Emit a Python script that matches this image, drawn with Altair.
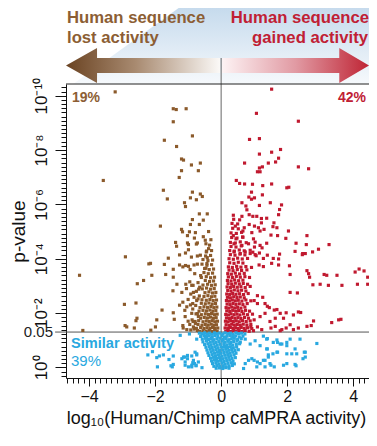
import altair as alt
import pandas as pd

BROWN = "#8B5A2B"
RED = "#C0192F"
BLUE = "#29A8E0"
BROWN_TXT = "#8C5E34"
RED_TXT = "#C02034"

# ---- data: (log10 ratio, -log10 p) ----
lost_pts = [
    (-3.21,10.14),(-1.45,9.52),(-1.36,9.49),(-1.06,9.52),(-1.45,9.04),(-0.87,8.52),(-1.72,8.36),(-1.35,8.13),
    (-1.20,7.67),(-1.14,7.63),(-0.90,7.45),(-0.63,7.52),(-1.20,7.24),(-0.69,7.24),(-1.27,6.99),(-3.57,6.88),
    (-1.75,6.52),(-0.87,6.45),(-0.63,6.38),(-0.57,6.29),(-1.63,6.20),(-0.93,6.24),(-0.75,6.17),(-1.11,6.06),
    (-1.08,5.92),(-0.66,5.65),(-0.42,5.65),(-0.87,5.44),(-0.54,5.42),(-0.93,5.26),(-0.66,5.26),(-1.84,5.20),
    (-1.20,5.08),(-1.17,4.99),(-0.96,4.99),(-0.78,4.96),(-1.02,4.85),(-0.81,4.76),(-0.54,4.81),(-1.38,4.60),
    (-1.02,4.58),(-0.75,4.54),(-1.35,4.46),(-0.99,4.52),(-0.72,4.58),(-0.46,4.55),(-0.38,4.37),(-0.99,4.33),
    (-0.45,4.25),(-2.90,4.07),(-1.60,4.02),(-1.26,4.14),(-1.08,4.21),(-0.90,4.06),(-0.72,4.10),(-0.63,4.13),
    (-0.42,4.04),(-2.19,3.81),(-2.14,3.83),(-1.72,3.79),(-1.45,3.61),(-1.26,3.77),(-1.08,3.75),(-0.94,3.60),
    (-0.82,3.77),(-0.72,3.80),(-0.58,3.80),(-0.43,3.82),(-0.46,3.65),(-4.29,3.39),(-2.54,3.08),(-2.35,3.20),
    (-2.10,3.39),(-1.68,3.42),(-1.45,3.32),(-1.16,3.70),(-0.99,3.72),(-1.34,3.06),(-1.07,3.06),(-0.89,3.02),
    (-1.19,2.76),(-0.84,2.76),(-0.68,2.88),(-1.46,2.82),(-2.93,2.32),(-2.58,2.37),(-1.79,2.11),(-1.45,2.01),
    (-1.26,2.29),(-1.16,2.40),(-1.04,2.23),(-0.86,2.35),(-0.74,2.46),(-1.95,1.75),(-1.42,1.77),(-1.09,1.87),
    (-0.89,1.99),(-0.79,1.69),(-0.69,1.87),(-2.55,1.81),(-2.58,1.72),(-2.91,1.54),(-2.86,1.49),(-2.63,1.45),
    (-2.13,1.37),(-1.99,1.49),(-1.16,1.54),(-1.04,1.39),(-0.84,1.49),(-0.67,1.33),(-4.19,1.36),
    (-0.72,1.36),(-0.82,1.41),(-0.92,1.38),(-0.78,1.62),(-0.88,1.75),(-0.95,1.58),(-0.72,1.98),(-0.86,2.15),
    (-0.93,2.30),(-0.77,2.28),(-0.70,2.52),(-0.82,2.58),(-0.92,2.70),(-0.75,2.80),(-0.65,2.95),(-0.85,3.02),
    (-0.95,3.15),(-0.70,3.12),(-0.62,3.38),(-0.80,3.45),(-1.00,2.50),(-1.05,2.90),(-1.10,2.10),(-1.00,1.70),
    (-1.15,1.45),
    (-0.12,1.33),(-0.20,1.35),(-0.28,1.32),(-0.36,1.36),(-0.45,1.33),(-0.55,1.35),(-0.65,1.32),
    (-0.10,1.45),(-0.18,1.43),(-0.26,1.47),(-0.34,1.44),(-0.43,1.46),(-0.52,1.43),(-0.62,1.47),(-0.75,1.44),
    (-0.14,1.57),(-0.22,1.55),(-0.30,1.59),(-0.39,1.56),(-0.48,1.58),(-0.58,1.55),(-0.70,1.58),
    (-0.11,1.70),(-0.19,1.68),(-0.27,1.72),(-0.36,1.69),(-0.45,1.71),(-0.55,1.68),(-0.68,1.72),(-0.85,1.69),
    (-0.15,1.83),(-0.23,1.81),(-0.32,1.85),(-0.41,1.82),(-0.51,1.84),(-0.62,1.81),
    (-0.12,1.96),(-0.20,1.94),(-0.29,1.98),(-0.38,1.95),(-0.48,1.97),(-0.60,1.94),(-0.76,1.97),
    (-0.16,2.09),(-0.25,2.07),(-0.34,2.11),(-0.44,2.08),(-0.55,2.10),(-0.67,2.07),
    (-0.13,2.22),(-0.22,2.20),(-0.31,2.24),(-0.41,2.21),(-0.52,2.23),(-0.64,2.20),
    (-0.17,2.35),(-0.27,2.33),(-0.37,2.37),(-0.48,2.34),(-0.60,2.36),
    (-0.14,2.48),(-0.24,2.46),(-0.34,2.50),(-0.45,2.47),(-0.58,2.49),
    (-0.19,2.62),(-0.29,2.60),(-0.40,2.64),(-0.52,2.61),(-0.66,2.63),
    (-0.16,2.76),(-0.26,2.74),(-0.37,2.78),(-0.49,2.75),
    (-0.21,2.90),(-0.32,2.88),(-0.44,2.92),(-0.57,2.89),
    (-0.18,3.04),(-0.29,3.02),(-0.41,3.06),(-0.55,3.03),
    (-0.23,3.18),(-0.35,3.16),(-0.48,3.20),
    (-0.20,3.32),(-0.32,3.30),(-0.45,3.34),(-0.60,3.31),
    (-0.26,3.47),(-0.39,3.45),(-0.52,3.49),
    (-0.23,3.62),(-0.36,3.60),(-0.50,3.64),
    (-0.29,3.78),(-0.43,3.76),
    (-0.26,3.95),(-0.40,3.93),(-0.55,3.97),
    (-0.32,4.12),(-0.47,4.10),
    (-0.29,4.30),(-0.44,4.28),
    (-0.35,4.50),(-0.31,4.70),(-0.48,4.68),(-0.38,5.00),
]

gained_pts = [
    (1.53,10.24),(1.07,9.35),(2.34,9.06),(0.86,8.39),(1.16,8.42),(1.80,8.02),(1.53,7.92),(1.16,7.85),
    (1.74,7.70),(1.65,7.56),(1.43,7.52),(0.71,7.52),(1.25,7.38),(1.16,7.34),(2.34,7.38),(2.65,7.31),
    (1.10,7.20),(1.18,7.20),(0.46,6.88),(0.56,6.77),(0.71,6.75),(0.95,6.74),(1.26,6.69),(1.53,6.75),
    (1.99,6.61),(2.05,6.63),(0.92,6.45),(0.84,6.27),(0.92,6.19),(1.01,6.24),(1.25,6.35),(1.16,5.96),
    (1.49,6.06),(1.83,5.98),(0.63,6.06),(0.75,5.94),(0.78,5.80),(1.77,5.81),(0.37,5.60),(0.63,5.56),
    (0.85,5.62),(0.96,5.56),(1.08,5.56),(1.22,5.48),(1.38,5.49),(1.74,5.62),(1.60,5.32),(1.22,5.32),
    (0.43,5.20),(0.66,5.02),(0.85,5.26),(1.01,5.20),(1.13,5.14),(0.93,4.96),(1.18,5.02),(1.30,5.08),
    (1.57,5.18),(1.69,5.14),(2.04,5.02),(2.60,4.85),(1.51,4.87),(1.71,4.85),(1.96,4.75),(2.27,4.57),
    (2.58,4.52),(3.27,4.52),(0.37,4.85),(0.45,4.73),(0.66,4.79),(0.98,4.73),(1.03,4.61),(0.39,4.55),
    (0.63,4.49),(0.83,4.55),(1.01,4.43),(1.18,4.49),(1.38,4.57),(1.24,4.40),(2.24,4.27),(2.46,4.15),
    (2.77,4.25),(2.95,4.35),(2.55,4.19),(0.39,4.25),(0.58,4.19),(0.73,4.25),(0.88,4.19),(1.03,4.15),
    (1.16,4.21),(1.40,4.13),(1.77,4.17),(1.74,3.99),(1.28,4.01),(1.58,4.01),(1.53,3.83),(1.74,3.77),
    (1.28,3.71),(1.15,3.77),(2.07,3.74),(2.60,3.56),(4.06,3.51),(4.18,3.62),(4.33,3.55),(0.96,4.24),
    (1.06,4.11),(2.47,4.19),(2.09,3.42),(2.65,3.45),(2.68,3.32),(3.12,3.42),(3.20,3.39),(3.51,3.39),
    (4.44,3.32),(2.78,3.04),(3.00,3.06),(3.25,3.02),(3.66,3.02),(4.13,3.06),(4.44,3.06),(2.09,2.76),
    (2.31,2.74),(1.97,2.01),(2.19,1.93),(2.34,2.04),(2.41,2.02),(2.80,1.71),(3.35,1.65),(3.56,1.75),
    (3.63,1.77),(2.19,1.39),(2.34,1.45),(2.60,1.51),(2.73,1.54),(2.09,1.57),(1.33,2.35),(1.40,2.25),
    (1.61,2.11),(1.69,2.13),(1.79,1.99),(1.46,2.20),(1.33,1.99),(1.64,1.81),(1.89,1.81),(1.48,1.69),
    (1.51,1.45),(1.64,1.51),(1.79,1.35),(1.84,1.39),(1.97,1.45),(1.10,2.64),(1.00,2.46),(1.10,2.35),
    (1.26,2.58),(1.18,1.87),(1.00,1.75),(1.10,1.49),(0.90,1.49),(1.23,1.39),
    (0.14,1.33),(0.22,1.35),(0.30,1.32),(0.38,1.36),(0.46,1.33),(0.55,1.35),(0.64,1.32),(0.73,1.36),(0.85,1.33),(0.98,1.35),
    (0.12,1.45),(0.20,1.43),(0.28,1.47),(0.36,1.44),(0.44,1.46),(0.52,1.43),(0.61,1.47),(0.70,1.44),(0.80,1.46),(0.93,1.43),
    (0.15,1.57),(0.24,1.55),(0.32,1.59),(0.40,1.56),(0.49,1.58),(0.58,1.55),(0.67,1.59),(0.78,1.56),(0.90,1.58),
    (0.13,1.70),(0.21,1.68),(0.29,1.72),(0.37,1.69),(0.46,1.71),(0.55,1.68),(0.65,1.72),(0.76,1.69),(0.88,1.71),
    (0.16,1.82),(0.25,1.80),(0.33,1.84),(0.42,1.81),(0.51,1.83),(0.60,1.80),(0.71,1.84),(0.83,1.81),
    (0.14,1.95),(0.22,1.93),(0.30,1.97),(0.39,1.94),(0.48,1.96),(0.57,1.93),(0.68,1.97),(0.80,1.94),(0.95,1.96),
    (0.17,2.08),(0.26,2.06),(0.35,2.10),(0.44,2.07),(0.53,2.09),(0.63,2.06),(0.74,2.10),(0.86,2.07),
    (0.15,2.20),(0.23,2.18),(0.32,2.22),(0.41,2.19),(0.50,2.21),(0.60,2.18),(0.72,2.22),
    (0.18,2.33),(0.27,2.31),(0.36,2.35),(0.45,2.32),(0.55,2.34),(0.66,2.31),(0.79,2.35),
    (0.16,2.46),(0.25,2.44),(0.34,2.48),(0.43,2.45),(0.52,2.47),(0.63,2.44),(0.75,2.48),(0.90,2.45),
    (0.19,2.58),(0.28,2.56),(0.38,2.60),(0.48,2.57),(0.58,2.59),(0.70,2.56),
    (0.17,2.70),(0.26,2.68),(0.35,2.72),(0.45,2.69),(0.56,2.71),(0.68,2.68),(0.82,2.72),
    (0.20,2.83),(0.30,2.81),(0.40,2.85),(0.51,2.82),(0.62,2.84),(0.75,2.81),
    (0.18,2.96),(0.28,2.94),(0.38,2.98),(0.49,2.95),(0.60,2.97),(0.73,2.94),(0.88,2.98),
    (0.21,3.08),(0.32,3.06),(0.43,3.10),(0.55,3.07),(0.67,3.09),(0.80,3.06),
    (0.19,3.20),(0.30,3.18),(0.41,3.22),(0.53,3.19),(0.66,3.21),
    (0.22,3.33),(0.34,3.31),(0.46,3.35),(0.58,3.32),(0.72,3.34),(0.86,3.31),
    (0.20,3.45),(0.31,3.43),(0.43,3.47),(0.56,3.44),(0.70,3.46),
    (0.24,3.58),(0.36,3.56),(0.49,3.60),(0.62,3.57),(0.78,3.59),
    (0.22,3.70),(0.34,3.68),(0.47,3.72),(0.60,3.69),(0.75,3.71),(0.92,3.68),
    (0.26,3.85),(0.39,3.83),(0.52,3.87),(0.66,3.84),
    (0.24,4.00),(0.37,3.98),(0.50,4.02),(0.64,3.99),(0.80,4.01),
    (0.28,4.15),(0.42,4.13),(0.57,4.17),(0.72,4.14),
    (0.26,4.30),(0.40,4.28),(0.55,4.32),(0.70,4.29),(0.88,4.31),
    (0.30,4.45),(0.45,4.43),(0.61,4.47),
    (0.28,4.60),(0.43,4.58),(0.58,4.62),(0.76,4.59),
    (0.32,4.78),(0.48,4.76),(0.65,4.80),
    (0.30,4.95),(0.46,4.93),(0.62,4.97),
    (0.35,5.12),(0.52,5.10),(0.70,5.14),
    (0.33,5.30),(0.50,5.28),(0.38,5.45),(0.56,5.43),
]

similar_pts = [
    (-1.24,1.18),(-0.96,1.23),(-2.22,0.46),(-1.95,0.36),(-1.87,0.42),(-1.75,0.46),(-1.58,0.29),(-1.45,0.42),
    (-2.08,0.58),(-1.19,0.32),(-1.11,0.38),(-1.02,0.32),(-0.89,0.42),(-0.79,0.56),(-0.74,0.46),(-1.93,0.02),
    (-1.52,0.06),(-1.45,0.11),(-1.48,0.02),(-1.09,0.20),(-0.99,0.02),(-0.89,0.08),(-0.81,0.14),(-0.69,0.20),
    (-0.74,1.04),(-0.48,1.15),(0.73,1.04),(0.88,0.86),(1.03,0.98),(1.18,0.80),(1.28,1.15),(1.38,1.04),
    (1.58,0.92),(1.71,0.92),(1.84,0.86),(1.99,0.92),(2.09,1.04),(2.39,1.04),(2.55,0.56),(2.48,0.32),
    (2.29,0.50),(2.14,0.50),(1.99,0.50),(1.71,0.56),(1.57,0.50),(1.38,0.68),(1.43,0.38),(1.28,0.26),
    (1.18,0.14),(1.08,0.02),(1.33,0.02),(1.51,0.08),(1.61,0.02),(0.83,0.26),(0.93,0.32),(0.73,0.14),
    (0.68,-0.04),(1.89,0.08),(2.27,0.06),(-0.84,0.26),(-0.74,0.50),(-0.89,0.02),(-0.76,0.06),(-0.58,-0.01),
    (2.90,0.88),(1.40,1.06),(1.69,1.01),(1.79,0.86),(1.99,0.80),(2.24,0.68),(2.52,0.56),(2.55,0.38),
    (1.69,0.56),(1.40,0.68),(1.43,0.46),(1.33,0.26),(1.48,0.14),(1.99,0.14),(2.24,0.11),(1.00,0.26),
    (1.10,0.20),(-1.02,0.44),(-1.09,0.08),(-0.86,0.17),(-0.76,0.08),(-1.14,0.38),
    (-0.66,1.26),(-0.58,1.24),(-0.50,1.27),(-0.42,1.23),(-0.35,1.26),(-0.28,1.22),(-0.20,1.27),(-0.12,1.24),
    (-0.05,1.26),(0.05,1.23),(0.12,1.27),(0.20,1.24),(0.28,1.26),(0.36,1.22),(0.45,1.27),(0.53,1.24),
    (0.62,1.26),(0.72,1.23),
    (-0.62,1.14),(-0.52,1.17),(-0.44,1.13),(-0.36,1.16),(-0.27,1.12),(-0.19,1.17),(-0.10,1.14),(0.02,1.16),
    (0.10,1.12),(0.18,1.15),(0.27,1.17),(0.35,1.13),(0.44,1.16),(0.55,1.12),(0.66,1.15),
    (-0.57,1.04),(-0.47,1.07),(-0.38,1.03),(-0.30,1.06),(-0.22,1.02),(-0.13,1.05),(-0.04,1.07),(0.06,1.03),
    (0.14,1.06),(0.23,1.02),(0.31,1.05),(0.40,1.07),(0.50,1.03),(0.61,1.06),
    (-0.55,0.94),(-0.44,0.97),(-0.33,0.93),(-0.25,0.96),(-0.16,0.92),(-0.07,0.95),(0.03,0.97),(0.11,0.93),
    (0.20,0.96),(0.29,0.92),(0.38,0.95),(0.48,0.97),(0.58,0.93),
    (-0.50,0.84),(-0.40,0.87),(-0.31,0.83),(-0.22,0.86),(-0.12,0.82),(-0.03,0.85),(0.08,0.87),(0.17,0.83),
    (0.26,0.86),(0.35,0.82),(0.46,0.85),(0.56,0.87),
    (-0.46,0.74),(-0.36,0.77),(-0.27,0.73),(-0.18,0.76),(-0.09,0.72),(0.01,0.75),(0.10,0.77),(0.19,0.73),
    (0.28,0.76),(0.37,0.72),(0.47,0.75),
    (-0.43,0.64),(-0.33,0.67),(-0.24,0.63),(-0.15,0.66),(-0.05,0.62),(0.05,0.65),(0.14,0.67),(0.23,0.63),
    (0.32,0.66),(0.42,0.62),(0.52,0.65),
    (-0.40,0.54),(-0.30,0.57),(-0.20,0.53),(-0.11,0.56),(-0.02,0.52),(0.08,0.55),(0.17,0.57),(0.26,0.53),
    (0.35,0.56),(0.45,0.52),
    (-0.37,0.44),(-0.27,0.47),(-0.17,0.43),(-0.08,0.46),(0.02,0.42),(0.11,0.45),(0.20,0.47),(0.29,0.43),(0.39,0.46),
    (-0.32,0.34),(-0.23,0.37),(-0.14,0.33),(-0.05,0.36),(0.05,0.32),(0.14,0.35),(0.23,0.37),(0.33,0.33),(0.43,0.36),
    (-0.29,0.24),(-0.20,0.27),(-0.11,0.23),(-0.02,0.26),(0.08,0.22),(0.17,0.25),(0.26,0.27),(0.36,0.23),
    (-0.26,0.14),(-0.16,0.17),(-0.07,0.13),(0.03,0.16),(0.12,0.12),(0.21,0.15),(0.31,0.17),(0.40,0.13),
    (-0.22,0.04),(-0.13,0.07),(-0.04,0.03),(0.06,0.06),(0.15,0.02),(0.24,0.05),(0.34,0.07),
    (-0.15,-0.03),(-0.05,-0.02),(0.05,-0.04),(0.14,-0.01),(0.24,-0.03),
]

groups = ["lost", "gained", "similar"]
group_colors = [BROWN, RED, BLUE]

x_major = [-4, -2, 0, 2, 4]
y_major = [0, 2, 4, 6, 8, 10]
y_labels = ["10⁰", "10⁻²", "10⁻⁴", "10⁻⁶", "10⁻⁸", "10⁻¹⁰"]
x_minor = [k / 6 for k in range(-28, 27)]
y_minor = [k * 2 / 13 for k in range(-2, 68)]

X_DOM = [-4.7, 4.48]
Y_DOM = [-0.39, 10.43]
P05 = 1.301  # -log10(0.05)

W, H = 303, 294
PX = H / (Y_DOM[1] - Y_DOM[0])          # pixels per decade
def above(px):                           # data value that lies px pixels above the plot top
    return Y_DOM[1] + px / PX

rows = []
for g, pts in zip(groups, [lost_pts, gained_pts, similar_pts]):
    for x, y in pts:
        rows.append({"x": x, "y": y, "g": g})
df = pd.DataFrame(rows)

xs = alt.Scale(domain=X_DOM, nice=False, zero=False)
ys = alt.Scale(domain=Y_DOM, nice=False, zero=False)

ylabel_expr = " : ".join(
    f"datum.value == {v} ? '{l}'" for v, l in zip(y_major[:-1], y_labels[:-1])
) + f" : '{y_labels[-1]}'"

# --- background triangle (header shading) ---
bg_df = pd.DataFrame({
    "x": [-4.48, -0.70, X_DOM[1]],
    "y": [above(0), above(90), above(90)],
    "y2": [above(0), above(0), above(0)],
})
bg = alt.Chart(bg_df).mark_area(
    color=alt.Gradient(gradient="linear",
                       stops=[alt.GradientStop(color="#bdd5ea", offset=0),
                              alt.GradientStop(color="#f6f9fc", offset=1)],
                       x1=0, x2=0, y1=0, y2=1)
).encode(x=alt.X("x:Q", scale=xs, axis=None), y=alt.Y("y:Q", scale=ys, axis=None), y2="y2:Q")

# --- arrows ---
S_TOP, S_BOT, H_TOP, H_BOT, TIP = above(26), above(11), above(36), above(1), above(18.5)
left_arrow = pd.DataFrame({
    "x": [-4.70, -3.76, -3.759, -0.03],
    "y": [TIP, H_TOP, S_TOP, S_TOP],
    "y2": [TIP, H_BOT, S_BOT, S_BOT],
})
right_arrow = pd.DataFrame({
    "x": [0.03, 3.579, 3.58, X_DOM[1]],
    "y": [S_TOP, S_TOP, H_TOP, TIP],
    "y2": [S_BOT, S_BOT, H_BOT, TIP],
})
la = alt.Chart(left_arrow).mark_area(
    color=alt.Gradient(gradient="linear",
                       stops=[alt.GradientStop(color="#6a4322", offset=0),
                              alt.GradientStop(color="#a88a70", offset=0.45),
                              alt.GradientStop(color="#fbf9f7", offset=1)],
                       x1=0, x2=1, y1=0, y2=0)
).encode(x=alt.X("x:Q", scale=xs, axis=None), y=alt.Y("y:Q", scale=ys, axis=None), y2="y2:Q")
ra = alt.Chart(right_arrow).mark_area(
    color=alt.Gradient(gradient="linear",
                       stops=[alt.GradientStop(color="#fdf3f4", offset=0),
                              alt.GradientStop(color="#e19aa3", offset=0.5),
                              alt.GradientStop(color="#bf2535", offset=1)],
                       x1=0, x2=1, y1=0, y2=0)
).encode(x=alt.X("x:Q", scale=xs, axis=None), y=alt.Y("y:Q", scale=ys, axis=None), y2="y2:Q")

# --- reference lines ---
vline = alt.Chart(pd.DataFrame({"x": [0], "y": [Y_DOM[0]], "y2": [S_TOP]})).mark_rule(
    color="#666666", strokeWidth=1
).encode(x=alt.X("x:Q", scale=xs, axis=None), y=alt.Y("y:Q", scale=ys, axis=None), y2="y2:Q")
hline = alt.Chart(pd.DataFrame({"x": [-5.03], "x2": [X_DOM[1]], "y": [P05]})).mark_rule(
    color="#555555", strokeWidth=1
).encode(x=alt.X("x:Q", scale=xs, axis=None), x2="x2:Q", y=alt.Y("y:Q", scale=ys, axis=None))

top_border = alt.Chart(pd.DataFrame({"a": [0]})).mark_rule(color="#222222", strokeWidth=1).encode(
    x=alt.value(0), x2=alt.value(W), y=alt.value(0)
)

# --- points ---
points = alt.Chart(df).mark_square(size=10, opacity=1).encode(
    x=alt.X("x:Q", scale=xs, axis=alt.Axis(
        values=x_major, tickSize=8, labelFontSize=16, labelPadding=2, grid=False,
        title="log₁₀(Human/Chimp caMPRA activity)", titleFontSize=18, titleFontWeight="normal",
        titleX=150, titleY=45, titleAlign="center", titleBaseline="alphabetic", orient="bottom")),
    y=alt.Y("y:Q", scale=ys, axis=alt.Axis(
        values=y_major, labelExpr=ylabel_expr, tickSize=11, labelFontSize=17, labelAngle=270,
        labelAlign="center", labelBaseline="alphabetic", labelPadding=9, grid=False,
        title="p-value", titleFontSize=19, titleFontWeight="normal", titleAngle=270,
        titleX=-42, titleY=H / 2, titleAlign="center", titleBaseline="alphabetic", orient="left")),
    color=alt.Color("g:N", scale=alt.Scale(domain=groups, range=group_colors), legend=None),
)

# --- minor ticks (extra axes on the same scales) ---
minor = alt.Chart(pd.DataFrame({"x": [0.0], "y": [0.0]})).mark_point(opacity=0).encode(
    x=alt.X("x:Q", scale=xs, axis=alt.Axis(values=x_minor, tickSize=5, labels=False, domain=False,
                                            grid=False, title=None, orient="bottom")),
    y=alt.Y("y:Q", scale=ys, axis=alt.Axis(values=y_minor, tickSize=5, labels=False, domain=False,
                                            grid=False, title=None, orient="left")),
)

# --- annotations ---
def txt(t, x, y, color, size, weight="bold", align="left", baseline="alphabetic"):
    return alt.Chart(pd.DataFrame({"t": [t]})).mark_text(
        color=color, fontSize=size, fontWeight=weight, align=align, baseline=baseline,
        font="Liberation Sans"
    ).encode(x=alt.value(x), y=alt.value(y), text="t:N")

y05 = (Y_DOM[1] - P05) * PX
ann = [
    txt("Human sequence", 1, -61, BROWN_TXT, 16.7),
    txt("lost activity", 1, -41, BROWN_TXT, 16.7),
    txt("Human sequence", W, -61, RED_TXT, 16.7, align="right"),
    txt("gained activity", W - 1, -41, RED_TXT, 16.7, align="right"),
    txt("19%", 6, 18, BROWN_TXT, 14),
    txt("42%", W - 3, 18, RED_TXT, 14, align="right"),
    txt("Similar activity", 5, y05 + 16, BLUE, 14.6),
    txt("39%", 5, y05 + 34, BLUE, 15, weight="normal"),
    txt("0.05", -13, y05, "#222222", 15, weight="normal", align="right", baseline="middle"),
]

chart = alt.layer(bg, la, ra, vline, hline, top_border, points, minor, *ann).resolve_axis(
    x="independent", y="independent"
).properties(
    width=W, height=H,
    autosize=alt.AutoSizeParams(type="none"),
    padding={"left": 58, "top": 76, "right": 0, "bottom": 52},
).configure_view(strokeWidth=0).configure_axis(
    domainColor="#111111", tickColor="#111111", labelColor="#111111", titleColor="#111111",
    labelFont="Liberation Sans", titleFont="Liberation Sans", domainWidth=1, tickWidth=1,
).configure_text(font="Liberation Sans")

chart.save("out.html", embed_options={"renderer": "svg", "actions": False})
